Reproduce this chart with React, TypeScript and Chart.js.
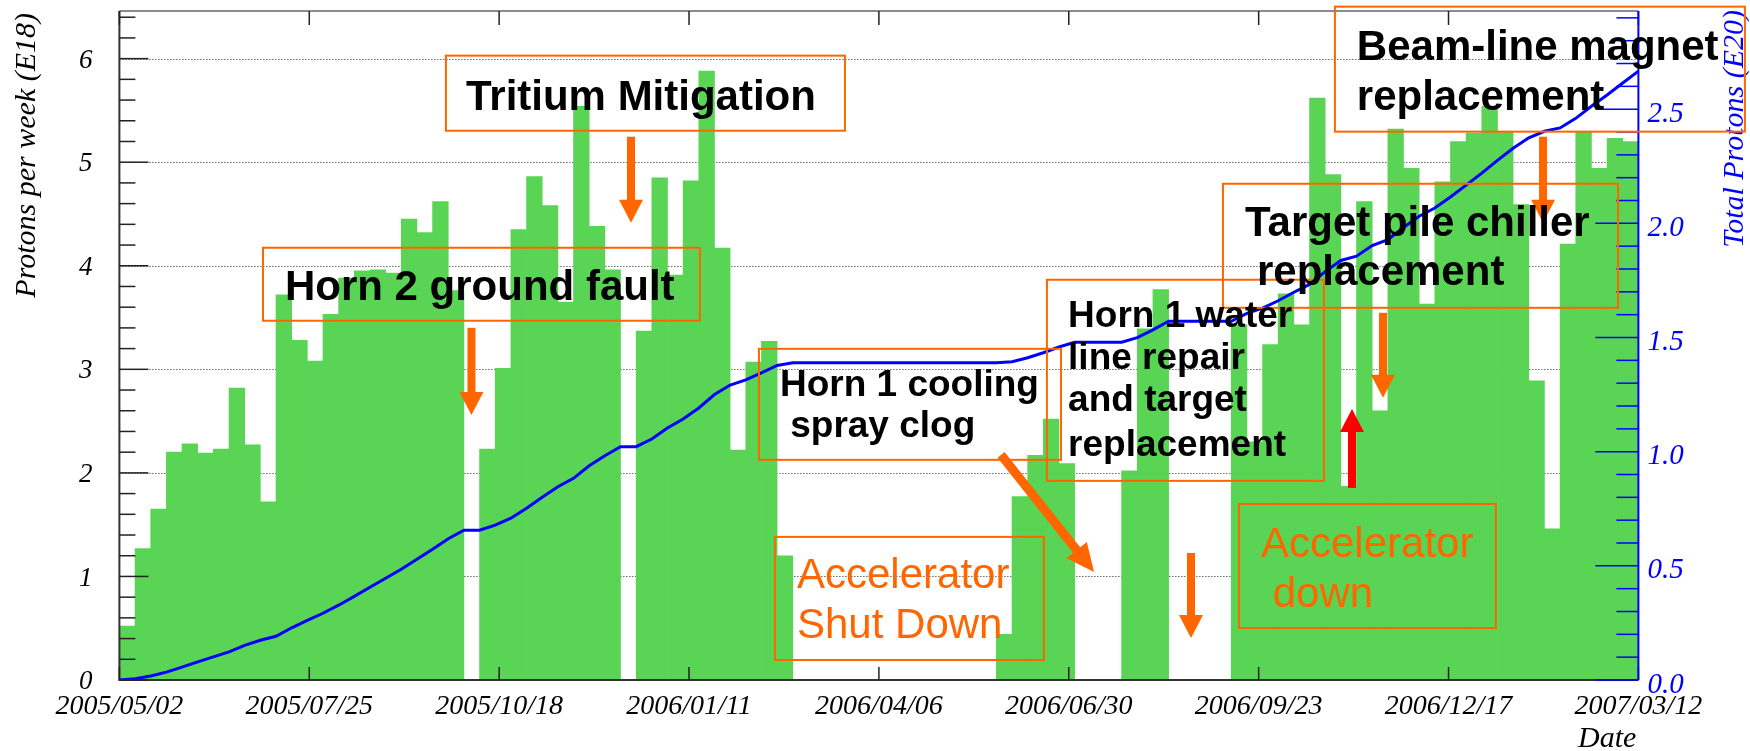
import React, { useEffect, useRef } from "react";
import { Chart, registerables } from "chart.js";

Chart.register(...registerables);

// ---------------- data ----------------
const xTickLabels = [
  "2005/05/02",
  "2005/07/25",
  "2005/10/18",
  "2006/01/11",
  "2006/04/06",
  "2006/06/30",
  "2006/09/23",
  "2006/12/17",
  "2007/03/12",
];

// protons per week (E18), one value per week starting 2005/05/02
const weeklyProtons = [
  0.52, 1.27, 1.65, 2.2, 2.28, 2.19, 2.23, 2.82, 2.27, 1.72,
  3.72, 3.28, 3.08, 3.53, 3.88, 3.95, 3.96, 3.93, 4.45, 4.32,
  4.62, 3.76, 0, 2.23, 3.01, 4.35, 4.86, 4.58, 3.65, 5.54,
  4.38, 3.96, 0, 3.37, 4.85, 3.91, 4.82, 5.88, 4.17, 2.22,
  3.07, 3.27, 1.2,
  0, 0, 0, 0, 0, 0, 0, 0, 0, 0, 0, 0, 0,
  0.44, 1.77, 2.17, 2.52, 2.09,
  0, 0, 0,
  2.02, 3.39, 3.77,
  0, 0, 0, 0,
  3.43, 2.3, 3.24, 3.73, 3.43, 5.62, 4.88, 1.87, 4.62, 2.6,
  5.32, 4.94, 3.63, 4.81, 5.2, 5.28, 5.54, 5.29, 4.59, 2.89,
  1.46, 4.21, 5.29, 4.94, 5.23, 5.2,
];

const leftTickValues = [0, 1, 2, 3, 4, 5, 6];
const rightTickValues = [0, 0.5, 1.0, 1.5, 2.0, 2.5];

const LEFT_MAX = 6.46;
const RIGHT_MAX = 2.93;
const WEEKS = weeklyProtons.length;

// ---------------- styles ----------------
const GREEN = "rgb(89,212,84)";
const BLUE = "#0000ff";
const ORANGE = "#ff6600";
const RED = "#ff0000";
const SERIF = '"Liberation Serif", "Times New Roman", serif';
const SANS = '"Liberation Sans", Arial, sans-serif';
const BOLD_L = `bold 42px ${SANS}`;
const BOLD_M = `bold 37px ${SANS}`;
const REG_L = `42px ${SANS}`;

// annotations, in data units (x: weeks since 2005/05/02, y: left axis units)
type Box = { x0: number; x1: number; y0: number; y1: number };
type Label = { text: string; x: number; y: number; font: string; color: string };
type Arrow = {
  x0: number; y0: number; x1: number; y1: number;
  color: string; shaft: number; head: number; half: number;
};

const noteBoxes: Box[] = [
  { x0: 20.85, x1: 46.33, y0: 6.029, y1: 5.304 }, // Tritium
  { x0: 9.17, x1: 37.07, y0: 4.174, y1: 3.469 }, // Horn 2
  { x0: 40.84, x1: 60.13, y0: 3.198, y1: 2.126 }, // Horn 1 cooling
  { x0: 59.23, x1: 76.92, y0: 3.865, y1: 1.923 }, // Horn 1 water
  { x0: 70.47, x1: 95.7, y0: 4.792, y1: 3.594 }, // Target pile
  { x0: 77.62, x1: 103.8, y0: 6.502, y1: 5.295 }, // Beam-line
  { x0: 41.86, x1: 59.04, y0: 1.382, y1: 0.193 }, // Accelerator shut down
  { x0: 71.49, x1: 87.9, y0: 1.7, y1: 0.502 }, // Accelerator down
];

const noteLabels: Label[] = [
  { text: "Tritium Mitigation", x: 22.13, y: 5.507, font: BOLD_L, color: "#000" },
  { text: "Horn 2 ground fault", x: 10.57, y: 3.671, font: BOLD_L, color: "#000" },
  { text: "Horn 1 cooling", x: 42.18, y: 2.744, font: BOLD_M, color: "#000" },
  { text: " spray clog", x: 42.18, y: 2.348, font: BOLD_M, color: "#000" },
  { text: "Horn 1 water", x: 60.58, y: 3.411, font: BOLD_M, color: "#000" },
  { text: "line repair", x: 60.58, y: 3.005, font: BOLD_M, color: "#000" },
  { text: "and target", x: 60.58, y: 2.599, font: BOLD_M, color: "#000" },
  { text: "replacement", x: 60.58, y: 2.164, font: BOLD_M, color: "#000" },
  { text: "Target pile chiller", x: 71.88, y: 4.29, font: BOLD_L, color: "#000" },
  { text: "replacement", x: 72.64, y: 3.816, font: BOLD_L, color: "#000" },
  { text: "Beam-line magnet", x: 79.02, y: 5.99, font: BOLD_L, color: "#000" },
  { text: "replacement", x: 79.02, y: 5.507, font: BOLD_L, color: "#000" },
  { text: "Accelerator", x: 43.27, y: 0.889, font: REG_L, color: ORANGE },
  { text: "Shut Down", x: 43.27, y: 0.406, font: REG_L, color: ORANGE },
  { text: "Accelerator", x: 72.9, y: 1.188, font: REG_L, color: ORANGE },
  { text: " down", x: 72.9, y: 0.705, font: REG_L, color: ORANGE },
];

const noteArrows: Arrow[] = [
  { x0: 22.48, y0: 3.401, x1: 22.48, y1: 2.56, color: ORANGE, shaft: 8, head: 23, half: 12 },
  { x0: 32.67, y0: 5.246, x1: 32.67, y1: 4.415, color: ORANGE, shaft: 8, head: 23, half: 12 },
  { x0: 56.3, y0: 2.174, x1: 62.24, y1: 1.043, color: ORANGE, shaft: 9, head: 28, half: 13 },
  { x0: 78.71, y0: 1.855, x1: 78.71, y1: 2.618, color: RED, shaft: 8, head: 23, half: 12 },
  { x0: 68.43, y0: 1.227, x1: 68.43, y1: 0.406, color: ORANGE, shaft: 8, head: 23, half: 12 },
  { x0: 80.69, y0: 3.546, x1: 80.69, y1: 2.725, color: ORANGE, shaft: 8, head: 23, half: 12 },
  { x0: 90.91, y0: 5.246, x1: 90.91, y1: 4.415, color: ORANGE, shaft: 8, head: 23, half: 12 },
];

// ---------------- plugins ----------------
function drawArrow(ctx: CanvasRenderingContext2D, x0: number, y0: number, x1: number, y1: number, a: Arrow) {
  const dx = x1 - x0;
  const dy = y1 - y0;
  const len = Math.hypot(dx, dy);
  const ux = dx / len;
  const uy = dy / len;
  const bx = x1 - ux * a.head;
  const by = y1 - uy * a.head;
  ctx.strokeStyle = a.color;
  ctx.fillStyle = a.color;
  ctx.lineWidth = a.shaft;
  ctx.lineCap = "butt";
  ctx.beginPath();
  ctx.moveTo(x0, y0);
  ctx.lineTo(bx + ux * 1, by + uy * 1);
  ctx.stroke();
  ctx.beginPath();
  ctx.moveTo(x1, y1);
  ctx.lineTo(bx - uy * a.half, by + ux * a.half);
  ctx.lineTo(bx + uy * a.half, by - ux * a.half);
  ctx.closePath();
  ctx.fill();
}

const rootStylePlugin = {
  id: "rootStyle",
  beforeDatasetsDraw(chart: any) {
    const { ctx, chartArea: a, scales } = chart;
    const y = scales.y;
    ctx.save();
    ctx.setLineDash([1, 2]);
    ctx.strokeStyle = "#222";
    ctx.lineWidth = 1;
    leftTickValues.forEach((v) => {
      if (v === 0) return;
      const py = Math.round(y.getPixelForValue(v)) + 0.5;
      ctx.beginPath();
      ctx.moveTo(a.left, py);
      ctx.lineTo(a.right, py);
      ctx.stroke();
    });
    ctx.restore();
  },
  afterDatasetsDraw(chart: any) {
    const { ctx, chartArea: a, scales } = chart;
    const x = scales.x;
    const y = scales.y;
    const y2 = scales.y2;
    ctx.save();
    ctx.setLineDash([]);
    // frame lines
    ctx.strokeStyle = "#666";
    ctx.lineWidth = 1.5;
    ctx.beginPath();
    ctx.moveTo(a.left, a.top);
    ctx.lineTo(a.right, a.top);
    ctx.stroke();
    ctx.strokeStyle = "#333";
    ctx.lineWidth = 2;
    ctx.beginPath();
    ctx.moveTo(a.left, a.top);
    ctx.lineTo(a.left, a.bottom);
    ctx.lineTo(a.right, a.bottom);
    ctx.stroke();
    // left ticks
    ctx.lineWidth = 1.5;
    ctx.strokeStyle = "#222";
    for (let i = 0; i * 0.2 <= LEFT_MAX + 1e-9; i++) {
      const py = y.getPixelForValue(i * 0.2);
      const len = i % 5 === 0 ? 29 : 16;
      ctx.beginPath();
      ctx.moveTo(a.left, py);
      ctx.lineTo(a.left + len, py);
      ctx.stroke();
    }
    // bottom and top ticks
    x.ticks.forEach((t: any) => {
      const px = x.getPixelForValue(t.value);
      ctx.beginPath();
      ctx.moveTo(px, a.bottom);
      ctx.lineTo(px, a.bottom - 13);
      ctx.moveTo(px, a.top);
      ctx.lineTo(px, a.top + 14);
      ctx.stroke();
    });
    // right axis
    ctx.strokeStyle = BLUE;
    ctx.lineWidth = 2;
    ctx.beginPath();
    ctx.moveTo(a.right, a.top);
    ctx.lineTo(a.right, a.bottom);
    ctx.stroke();
    ctx.lineWidth = 1.5;
    for (let i = 0; i * 0.1 <= RIGHT_MAX + 1e-9; i++) {
      const py = y2.getPixelForValue(i * 0.1);
      const len = i % 5 === 0 ? 43 : 22;
      ctx.beginPath();
      ctx.moveTo(a.right, py);
      ctx.lineTo(a.right - len, py);
      ctx.stroke();
    }
    ctx.restore();
  },
  afterDraw(chart: any) {
    const { ctx, chartArea: a, scales } = chart;
    const x = scales.x;
    const y = scales.y;
    ctx.save();
    // axis titles
    ctx.fillStyle = "#000";
    ctx.font = `italic 30px ${SERIF}`;
    ctx.save();
    ctx.translate(27, a.top + 2);
    ctx.rotate(-Math.PI / 2);
    ctx.textAlign = "right";
    ctx.textBaseline = "middle";
    ctx.fillText("Protons per week (E18)", 0, 0);
    ctx.restore();

    ctx.save();
    ctx.fillStyle = BLUE;
    ctx.translate(1735, a.top - 1);
    ctx.rotate(-Math.PI / 2);
    ctx.textAlign = "right";
    ctx.textBaseline = "middle";
    ctx.fillText("Total Protons (E20)", 0, 0);
    ctx.restore();

    ctx.textAlign = "right";
    ctx.textBaseline = "alphabetic";
    ctx.fillText("Date", a.right - 2, 747);

    // annotation boxes
    ctx.strokeStyle = ORANGE;
    ctx.lineWidth = 2;
    noteBoxes.forEach((b) => {
      const px0 = x.getPixelForValue(b.x0);
      const px1 = x.getPixelForValue(b.x1);
      const py0 = y.getPixelForValue(b.y0);
      const py1 = y.getPixelForValue(b.y1);
      ctx.strokeRect(px0, py0, px1 - px0, py1 - py0);
    });
    // arrows
    noteArrows.forEach((ar) => {
      drawArrow(
        ctx,
        x.getPixelForValue(ar.x0),
        y.getPixelForValue(ar.y0),
        x.getPixelForValue(ar.x1),
        y.getPixelForValue(ar.y1),
        ar
      );
    });
    // labels
    ctx.textAlign = "left";
    ctx.textBaseline = "alphabetic";
    noteLabels.forEach((l) => {
      ctx.font = l.font;
      ctx.fillStyle = l.color;
      ctx.fillText(l.text, x.getPixelForValue(l.x), y.getPixelForValue(l.y));
    });
    ctx.restore();
  },
};

// ---------------- component ----------------
export default function App() {
  const ref = useRef<HTMLCanvasElement>(null);

  useEffect(() => {
    document.body.style.margin = "0";
    document.body.style.background = "#fff";
    const canvas = ref.current;
    if (!canvas) return;

    const cumulative: number[] = [0];
    weeklyProtons.forEach((v, i) => cumulative.push(cumulative[i] + v));

    const chart = new Chart(canvas, {
      type: "bar",
      data: {
        datasets: [
          {
            type: "line",
            label: "Total Protons (E20)",
            data: cumulative.map((c, i) => ({ x: i, y: c / 100 })),
            xAxisID: "x",
            yAxisID: "y2",
            borderColor: BLUE,
            borderWidth: 3,
            pointRadius: 0,
            tension: 0,
            fill: false,
            order: 0,
          } as any,
          {
            type: "bar",
            label: "Protons per week (E18)",
            data: weeklyProtons.map((v, i) => ({ x: i + 0.5, y: v })),
            xAxisID: "x",
            yAxisID: "y",
            backgroundColor: GREEN,
            borderWidth: 0,
            barPercentage: 1,
            categoryPercentage: 1,
            order: 1,
          } as any,
        ],
      },
      options: {
        responsive: false,
        animation: false,
        devicePixelRatio: 1,
        events: [],
        layout: { padding: { top: 11, left: 0, right: 0, bottom: 0 } },
        plugins: {
          legend: { display: false },
          tooltip: { enabled: false },
        },
        scales: {
          x: {
            type: "linear",
            position: "bottom",
            min: 0,
            max: WEEKS,
            offset: false,
            grid: { display: false, drawTicks: false },
            border: { display: false },
            afterBuildTicks: (s: any) => {
              s.ticks = xTickLabels.map((_, i) => ({
                value: (i * WEEKS) / (xTickLabels.length - 1),
              }));
            },
            afterFit: (s: any) => {
              s.height = 71;
              s.paddingLeft = 0;
              s.paddingRight = 0;
            },
            ticks: {
              autoSkip: false,
              maxRotation: 0,
              minRotation: 0,
              padding: 10,
              color: "#000",
              font: { family: SERIF, size: 28, style: "italic" },
              callback: (_v: any, i: number) => xTickLabels[i],
            },
          },
          y: {
            type: "linear",
            position: "left",
            min: 0,
            max: LEFT_MAX,
            grid: { display: false, drawTicks: false },
            border: { display: false },
            afterBuildTicks: (s: any) => {
              s.ticks = leftTickValues.map((v) => ({ value: v }));
            },
            afterFit: (s: any) => {
              s.width = 119.4;
              s.paddingTop = 0;
              s.paddingBottom = 0;
            },
            ticks: {
              padding: 27,
              labelOffset: 2,
              color: "#000",
              font: { family: SERIF, size: 27, style: "italic" },
              callback: (v: any) => String(v),
            },
          },
          y2: {
            type: "linear",
            position: "right",
            min: 0,
            max: RIGHT_MAX,
            grid: { display: false, drawTicks: false },
            border: { display: false },
            afterBuildTicks: (s: any) => {
              s.ticks = rightTickValues.map((v) => ({ value: v }));
            },
            afterFit: (s: any) => {
              s.width = 111.6;
              s.paddingTop = 0;
              s.paddingBottom = 0;
            },
            ticks: {
              padding: 9,
              labelOffset: 5,
              color: BLUE,
              font: { family: SERIF, size: 29, style: "italic" },
              callback: (v: any) => Number(v).toFixed(1),
            },
          },
        },
      } as any,
      plugins: [rootStylePlugin],
    });

    return () => chart.destroy();
  }, []);

  return (
    <div style={{ width: 1750, height: 751, background: "#fff" }}>
      <canvas ref={ref} width={1750} height={751} style={{ display: "block" }} />
    </div>
  );
}
